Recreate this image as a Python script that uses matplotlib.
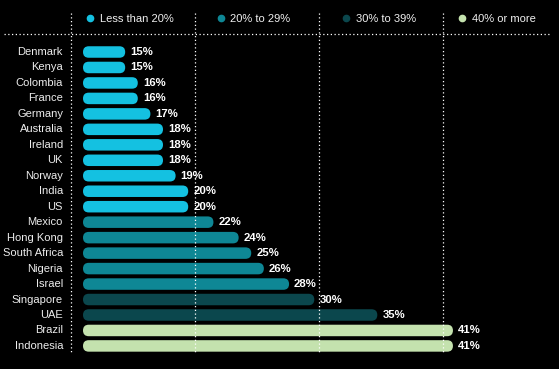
import matplotlib
matplotlib.use("Agg")
import matplotlib.pyplot as plt
from matplotlib.patches import FancyBboxPatch
from matplotlib.lines import Line2D

plt.rcParams["font.family"] = ["Liberation Sans", "DejaVu Sans"]

countries = ["Denmark", "Kenya", "Colombia", "France", "Germany", "Australia",
             "Ireland", "UK", "Norway", "India", "US", "Mexico", "Hong Kong",
             "South Africa", "Nigeria", "Israel", "Singapore", "UAE", "Brazil",
             "Indonesia"]
values = [15, 15, 16, 16, 17, 18, 18, 18, 19, 20, 20, 22, 24, 25, 26, 28, 30, 35, 41, 41]
# colour group of each bar as shown (India/US are drawn in the first group)
bands = [0, 0, 0, 0, 0, 0, 0, 0, 0, 0, 0, 1, 1, 1, 1, 1, 2, 2, 3, 3]

legend_labels = ["Less than 20%", "20% to 29%", "30% to 39%", "40% or more"]
legend_colors = ["#14C1E1", "#0E8795", "#0B474D", "#C4E2AE"]

W, H = 559, 369
fig = plt.figure(figsize=(W / 100, H / 100), dpi=100, facecolor="black")
ax = fig.add_axes([0, 0, 1, 1], facecolor="black")

# axis scale chosen so the bars land where they do in the original
px_per_unit = 12.606
x_off = -63.9
ax.set_xlim(-x_off / px_per_unit, (W - x_off) / px_per_unit)
row0, row_step = 52, 15.47
ax.set_ylim((H - row0) / row_step, -row0 / row_step)
ax.axis("off")

base = (83 - x_off) / px_per_unit
bar_px = 11.5
bar_h = bar_px / row_step
rad_x = (bar_px / 2) / px_per_unit
aspect = ((bar_px / 2) / row_step) / rad_x

for i, (c, v, b) in enumerate(zip(countries, values, bands)):
    p = FancyBboxPatch((base, i - bar_h / 2), v - base, bar_h,
                       boxstyle=f"round,pad=0,rounding_size={rad_x}",
                       mutation_aspect=aspect, linewidth=0,
                       facecolor=legend_colors[b])
    ax.add_patch(p)
    ax.text(v + 5 / px_per_unit, i, f"{v}%", color="white", fontsize=8.2,
            fontweight="bold", va="center", ha="left")
    ax.text(63 / W, 1 - (row0 + row_step * i) / H, c, transform=ax.transAxes,
            color="#EDEDED", fontsize=8, va="center", ha="right")

# header: legend entries separated by dotted rules
dot_x = [90, 221, 346, 462]
for x, lab, col in zip(dot_x, legend_labels, legend_colors):
    fig.add_artist(Line2D([x / W], [1 - 18 / H], marker="o", markersize=4.5,
                          color=col, linestyle="none", transform=fig.transFigure))
    fig.text((x + 9.5) / W, 1 - 19 / H, lab, color="#F0F0F0", fontsize=8,
             va="center", ha="left")

for x in [71, 195, 319, 443]:
    fig.add_artist(Line2D([x / W, x / W], [1 - 13 / H, 1 - 352 / H],
                          color="white", linestyle=(0, (1, 2)), linewidth=0.9,
                          transform=fig.transFigure))
fig.add_artist(Line2D([4 / W, 550 / W], [1 - 34 / H, 1 - 34 / H],
                      color="white", linestyle=(0, (1, 2)), linewidth=0.9,
                      transform=fig.transFigure))

fig.savefig("out.png", dpi=100, facecolor="black")
